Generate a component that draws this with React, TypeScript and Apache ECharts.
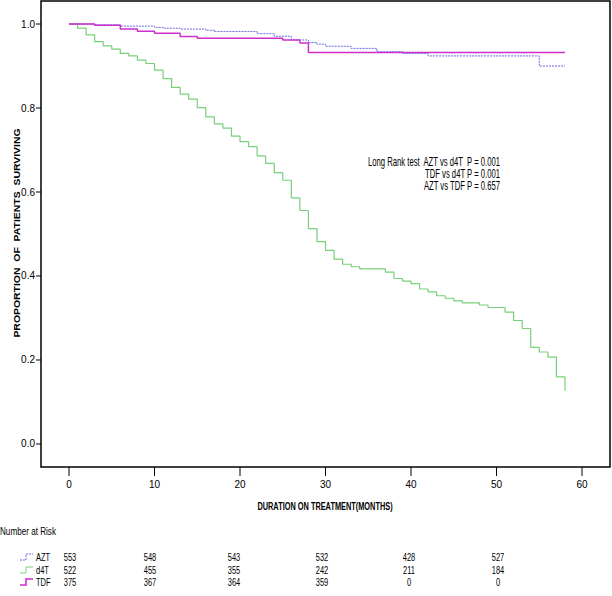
import React, { useEffect, useRef } from "react";
import * as echarts from "echarts";

// AZT survival (Kaplan-Meier) — times (months) and survival proportion
const aztTimes = [0, 3, 6, 10, 11, 13, 16, 17, 22, 24, 26, 28, 29, 30, 33, 36, 39, 42, 55, 58];
const aztSurv = [1.0, 0.998, 0.995, 0.992, 0.99, 0.988, 0.985, 0.982, 0.977, 0.971, 0.962, 0.956, 0.952, 0.947, 0.942, 0.934, 0.93, 0.924, 0.9, 0.9];

// d4T
const d4tTimes = [0, 1, 2, 3, 4, 5, 6, 7, 8, 9, 10, 11, 12, 13, 14, 15, 16, 17, 18, 19, 20, 21, 22, 23, 24, 25, 26, 27, 28, 29, 30, 31, 32, 33, 34, 37, 38, 39, 40, 41, 42, 43, 44, 45, 46, 48, 49, 51, 52, 53, 54, 55, 56, 57, 58];
const d4tSurv = [1.0, 0.99, 0.974, 0.958, 0.948, 0.94, 0.93, 0.924, 0.914, 0.906, 0.89, 0.87, 0.849, 0.833, 0.821, 0.801, 0.779, 0.762, 0.752, 0.733, 0.72, 0.708, 0.686, 0.668, 0.646, 0.628, 0.586, 0.556, 0.513, 0.482, 0.461, 0.44, 0.428, 0.422, 0.417, 0.409, 0.394, 0.388, 0.382, 0.369, 0.362, 0.353, 0.347, 0.341, 0.336, 0.331, 0.325, 0.314, 0.294, 0.275, 0.23, 0.219, 0.207, 0.16, 0.127];

// TDF
const tdfTimes = [0, 3, 6, 8, 10, 13, 15, 25, 27, 28, 58];
const tdfSurv = [1.0, 0.997, 0.988, 0.983, 0.978, 0.97, 0.966, 0.962, 0.955, 0.932, 0.932];

const groups = ["AZT", "d4T", "TDF"];
const riskAZT = [553, 548, 543, 532, 428, 527];
const riskD4T = [522, 455, 355, 242, 211, 184];
const riskTDF = [375, 367, 364, 359, 0, 0];

const xTicks = [0, 10, 20, 30, 40, 50, 60];
const yTicks = [0.0, 0.2, 0.4, 0.6, 0.8, 1.0];

const annotationLines = [
  "Long Rank test  AZT vs d4T  P = 0.001",
  "TDF vs d4T P = 0.001",
  "AZT vs TDF P = 0.657",
];

const COLORS = { AZT: "#6a6ae4", d4T: "#78d078", TDF: "#cc2fcc" };
const NARROW = "'Liberation Sans Narrow', 'Liberation Sans', Arial, sans-serif";

const pairs = (t: number[], s: number[]) => t.map((v, i) => [v, s[i]]);

export default function App() {
  const ref = useRef<HTMLDivElement>(null);
  useEffect(() => {
    if (!ref.current) return;
    const chart = echarts.init(ref.current, undefined, { renderer: "svg" });

    const frame = { x: 41, y: 1, width: 569, height: 466 };
    const colX = [70, 150, 234, 322, 409, 498];
    const rowY = [557, 570, 582];
    const riskRows = [riskAZT, riskD4T, riskTDF];

    const txt = (x: number, y: number, text: string, opts: any = {}) => ({
      type: "text",
      x,
      y,
      scaleX: opts.scaleX ?? 0.85,
      rotation: opts.rotation ?? 0,
      style: {
        text,
        fontFamily: opts.fontFamily ?? NARROW,
        fontWeight: opts.fontWeight ?? "normal",
        fontSize: opts.fontSize ?? 10.5,
        fill: "#000",
        textAlign: opts.align ?? "left",
        textVerticalAlign: "middle",
      },
    });

    chart.setOption({
      animation: false,
      grid: { left: frame.x, top: frame.y, width: frame.width, height: frame.height },
      xAxis: {
        type: "value",
        min: -3.275,
        max: 63.27,
        axisLine: { show: false, onZero: false },
        axisTick: { show: false },
        axisLabel: {
          color: "#000",
          fontFamily: NARROW,
          fontSize: 10,
          margin: 12,
          customValues: xTicks,
          formatter: (v: number) => String(Math.round(v)),
        },
        splitLine: { show: false },
      },
      yAxis: {
        type: "value",
        min: -0.0548,
        max: 1.0548,
        axisLine: { show: false, onZero: false },
        axisTick: { show: false },
        axisLabel: {
          color: "#000",
          fontFamily: NARROW,
          fontSize: 10,
          margin: 6,
          customValues: yTicks,
          formatter: (v: number) => v.toFixed(1),
        },
        splitLine: { show: false },
      },
      series: [
        {
          name: "d4T",
          type: "line",
          step: "end",
          showSymbol: false,
          data: pairs(d4tTimes, d4tSurv),
          lineStyle: { color: COLORS.d4T, width: 1.2 },
          z: 2,
        },
        {
          name: "AZT",
          type: "line",
          step: "end",
          showSymbol: false,
          data: pairs(aztTimes, aztSurv),
          lineStyle: { color: COLORS.AZT, width: 1, type: [2, 1] },
          z: 3,
        },
        {
          name: "TDF",
          type: "line",
          step: "end",
          showSymbol: false,
          data: pairs(tdfTimes, tdfSurv),
          lineStyle: { color: COLORS.TDF, width: 1.5 },
          z: 4,
        },
      ],
    });

    const graphics: any[] = [
      {
        type: "rect",
        shape: { ...frame },
        style: { fill: "none", stroke: "#000", lineWidth: 1.5 },
        z: 10,
      },
      txt(17, 233, "PROPORTION  OF  PATIENTS  SURVIVING", {
        rotation: Math.PI / 2,
        scaleX: 1.1,
        fontWeight: "bold",
        fontSize: 9.5,
        align: "center",
      }),
      txt(325, 506, "DURATION ON TREATMENT(MONTHS)", {
        fontWeight: "bold",
        fontSize: 11,
        align: "center",
        scaleX: 0.67,
      }),
      txt(0, 531, "Number at Risk", { fontSize: 11, scaleX: 0.74 }),
    ];

    // tick marks placed through the chart's own scales
    const bottom = frame.y + frame.height;
    xTicks.forEach((v) => {
      const px = chart.convertToPixel({ xAxisIndex: 0 }, v) as number;
      graphics.push({
        type: "line",
        shape: { x1: px, y1: bottom, x2: px, y2: bottom + 9 },
        style: { stroke: "#000", lineWidth: 1 },
        z: 10,
      });
    });
    yTicks.forEach((v) => {
      const py = chart.convertToPixel({ yAxisIndex: 0 }, v) as number;
      graphics.push({
        type: "line",
        shape: { x1: frame.x - 5, y1: py, x2: frame.x, y2: py },
        style: { stroke: "#000", lineWidth: 1 },
        z: 10,
      });
    });

    annotationLines.forEach((line, i) => {
      graphics.push(txt(500, 162 + i * 12, line, { align: "right", fontSize: 12, scaleX: 0.64 }));
    });

    groups.forEach((g, gi) => {
      const y = rowY[gi];
      const col = (COLORS as any)[g];
      graphics.push({
        type: "polyline",
        shape: { points: [[20, y + 3], [26, y + 3], [26, y - 3], [33, y - 3]] },
        style: {
          stroke: col,
          fill: "none",
          lineWidth: g === "TDF" ? 1.6 : 1,
          lineDash: g === "AZT" ? [2, 1] : null,
        },
      });
      graphics.push(txt(36, y, g, { fontSize: 11.5, scaleX: 0.65 }));
      riskRows[gi].forEach((n, ci) => {
        graphics.push(txt(colX[ci], y, String(n), { fontSize: 11.5, scaleX: 0.65, align: "center" }));
      });
    });

    chart.setOption({ graphic: graphics });

    return () => chart.dispose();
  }, []);

  return (
    <div
      ref={ref}
      style={{ position: "fixed", left: 0, top: 0, width: 612, height: 596, background: "#fff" }}
    />
  );
}
